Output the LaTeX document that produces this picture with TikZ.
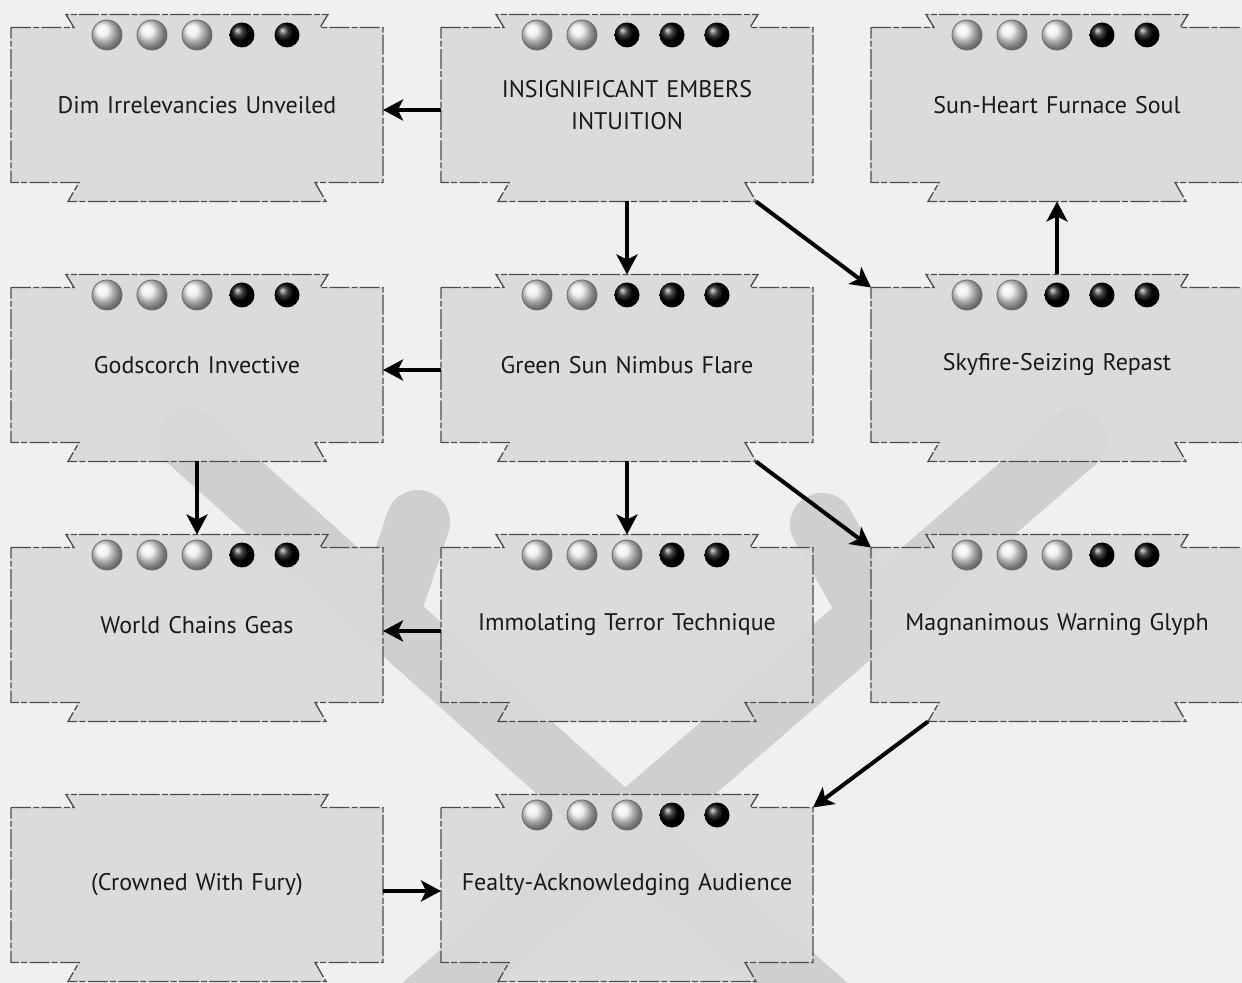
\documentclass[tikz,border=0pt]{standalone}
\usepackage{fontspec}
\setmainfont{PT Sans}
\usetikzlibrary{arrows.meta, positioning, calc, backgrounds}

\pgfdeclarelayer{emblem}
\pgfsetlayers{emblem,background,main}

\begin{document}
\begin{tikzpicture}[%
  node distance=52.5pt and 29pt,%
  charm/.style={rectangle, minimum width=186pt, minimum height=77.5pt, inner sep=3pt, outer sep=0pt, text width=176pt, align=center, font=\fontsize{12}{16}\selectfont, text=black!90},%
  tabbox/.style={fill=black!15, fill opacity=0.9, draw=black!70, line width=0.65pt, dash pattern=on 10pt off 1.2pt on 3pt off 1pt},%
  gem/.style={ball color=white!85!gray, draw=gray!85!black, line width=0.4pt},%
  spent/.style={ball color=black},%
  band/.style={draw=black!19, line width=32pt, line cap=round, line join=round},%
  link/.style={-{Stealth[length=10pt, width=10.5pt, inset=2.5pt]}, line width=2pt}%
]
  \useasboundingbox (-98.5pt,-439pt) rectangle (522.5pt,52.5pt);

  \node[charm] (dim) {Dim Irrelevancies Unveiled};
  \node[charm, right=of dim] (embers) {INSIGNIFICANT EMBERS\\INTUITION};
  \node[charm, right=of embers] (soul) {Sun-Heart Furnace Soul};
  \node[charm, below=of dim] (godscorch) {Godscorch Invective};
  \node[charm, right=of godscorch] (flare) {Green Sun Nimbus Flare};
  \node[charm, right=of flare] (repast) {Skyfire-Seizing Repast};
  \node[charm, below=of godscorch] (geas) {World Chains Geas};
  \node[charm, right=of geas] (terror) {Immolating Terror Technique};
  \node[charm, right=of terror] (glyph) {Magnanimous Warning Glyph};
  \node[charm, below=of geas] (crowned) {(Crowned With Fury)};
  \node[charm, right=of crowned] (audience) {Fealty-Acknowledging Audience};

  % faded emblem behind the tree
  \begin{pgfonlayer}{emblem}
    \fill[black!6] (-98.5pt,-439pt) rectangle (522.5pt,52.5pt);
    \begin{scope}[x=0.5pt, y=-0.5pt, shift={(-98.5pt,52.5pt)}]
      \draw[band] (190,440) -- (625,830) -- (830,1010);
      \draw[band] (1075,440) -- (625,830) -- (420,1010);
      \draw[band] (418,522) -- (392,600);
      \draw[band] (822,525) -- (862,595);
    \end{scope}
  \end{pgfonlayer}

  % notched cards
  \begin{scope}[on background layer]
    \foreach \n in {dim,embers,soul,godscorch,flare,repast,geas,terror,glyph,crowned,audience}
      \path[tabbox] (\n.north west) -- ($(\n.north)+(-61.5pt,0)$) -- ($(\n.north)+(-65.5pt,6.5pt)$)
        -- ($(\n.north)+(65.5pt,6.5pt)$) -- ($(\n.north)+(61.5pt,0)$) -- (\n.north east)
        -- (\n.south east) -- ($(\n.south)+(59pt,0)$) -- ($(\n.south)+(64.5pt,-9.5pt)$)
        -- ($(\n.south)+(-64.5pt,-9.5pt)$) -- ($(\n.south)+(-59pt,0)$) -- (\n.south west) -- cycle;
  \end{scope}

  % essence dots
  \foreach \n/\k in {dim/3,embers/2,soul/3,godscorch/3,flare/2,repast/2,geas/3,terror/3,glyph/3,audience/3}
    \foreach \i in {1,...,5}{
      \ifnum\i>\k
        \shade[spent] ($(\n.north)+(\i*22.5pt-67.5pt,-3.75pt)$) circle (6.25pt);
      \else
        \shadedraw[gem] ($(\n.north)+(\i*22.5pt-67.5pt,-3.75pt)$) circle (7.5pt);
      \fi
    }

  \draw[link] ([yshift=-2.5pt]embers.west) -- ([yshift=-2.5pt]dim.east);
  \draw[link] ([yshift=-9.5pt]embers.south) -- ([yshift=6.5pt]flare.north);
  \draw[link] ($(embers.south)+(64.5pt,-9.5pt)$) -- (repast.north west);
  \draw[link] ([yshift=6.5pt]repast.north) -- ([yshift=-9.5pt]soul.south);
  \draw[link] ([yshift=-2.5pt]flare.west) -- ([yshift=-2.5pt]godscorch.east);
  \draw[link] ([yshift=-9.5pt]flare.south) -- ([yshift=6.5pt]terror.north);
  \draw[link] ($(flare.south)+(64.5pt,-9.5pt)$) -- (glyph.north west);
  \draw[link] ([yshift=-9.5pt]godscorch.south) -- ([yshift=6.5pt]geas.north);
  \draw[link] ([yshift=-3pt]terror.west) -- ([yshift=-3pt]geas.east);
  \draw[link] ($(glyph.south)+(-64.5pt,-9.5pt)$) -- (audience.north east);
  \draw[link] ([yshift=-3pt]crowned.east) -- ([yshift=-3pt]audience.west);
\end{tikzpicture}
\end{document}
